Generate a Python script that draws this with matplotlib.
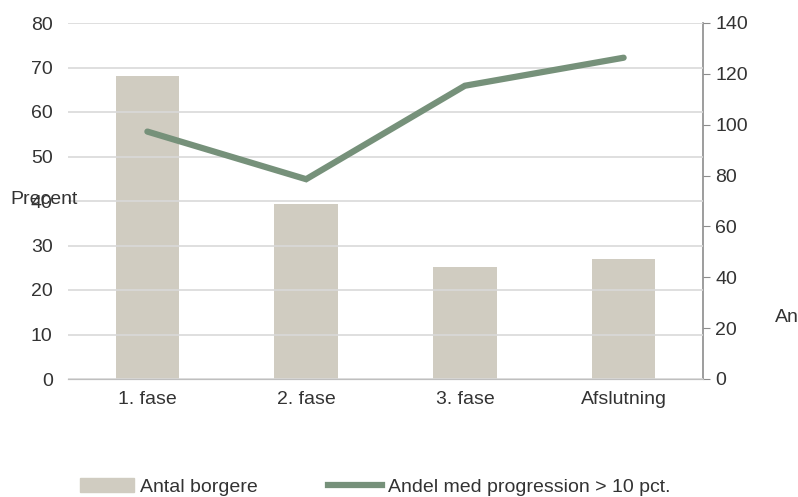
import matplotlib
matplotlib.use('Agg')
import matplotlib.pyplot as plt
from matplotlib.patches import Patch
from matplotlib.lines import Line2D

plt.rcParams['font.family'] = ['Liberation Sans', 'DejaVu Sans']

kategorier = ['1. fase', '2. fase', '3. fase', 'Afslutning']
antal_borgere = [119, 69, 44, 47]
andel_progression = [55.6, 44.9, 65.9, 72.2]

farve_bar = '#d0ccc1'
farve_linje = '#76917a'
farve_tekst = '#333333'

fig = plt.figure(figsize=(7.98, 4.97), dpi=100)
ax = fig.add_axes([68/798, 1 - 379/497, (703-68)/798, (379-23)/497])
ax2 = ax.twinx()

x = range(len(kategorier))

# søjler på højre akse
ax2.bar(x, antal_borgere, width=0.4, color=farve_bar, zorder=2)
ax2.set_ylim(0, 140)
ax2.set_yticks(range(0, 141, 20))

# linje på venstre akse
ax.set_zorder(ax2.get_zorder() + 1)
ax.patch.set_visible(False)
ax.plot(x, andel_progression, color=farve_linje, linewidth=4.5,
        solid_capstyle='round', solid_joinstyle='miter', zorder=3)
ax.set_ylim(0, 80)
ax.set_yticks(range(0, 81, 10))
ax.set_xlim(-0.5, 3.5)
ax.set_xticks(list(x))
ax.set_xticklabels(kategorier)

ax.grid(axis='y', color='#d9d9d9', linewidth=1.2, zorder=0)
ax.set_axisbelow(True)

for a in (ax, ax2):
    for s in ['top', 'left', 'right']:
        a.spines[s].set_visible(False)
    a.spines['bottom'].set_color('#bfbfbf')
    a.tick_params(labelsize=14, colors=farve_tekst)

ax2.spines['right'].set_visible(True)
ax2.spines['right'].set_color('#8c8c8c')
ax2.spines['right'].set_linewidth(1.2)
ax2.tick_params(axis='y', length=5, color='#8c8c8c', pad=4)
ax.tick_params(axis='y', length=0, pad=11)
ax.tick_params(axis='x', length=0, pad=9)

fig.text(10/798, 1 - 200/497, 'Precent', fontsize=14, color=farve_tekst,
         va='center', ha='left')
fig.text(775/798, 1 - 317/497, 'Antal', fontsize=14, color=farve_tekst,
         va='center', ha='left')

handles = [Patch(color=farve_bar), Line2D([], [], color=farve_linje, linewidth=4.5)]
fig.legend(handles, ['Antal borgere', 'Andel med progression > 10 pct.'],
           loc='center', bbox_to_anchor=(0.47, 1 - 487/497), ncol=2, frameon=False,
           fontsize=14, handlelength=2.8, columnspacing=3.6, handletextpad=0.3,
           labelcolor=farve_tekst)

fig.savefig('out.png', dpi=100)
